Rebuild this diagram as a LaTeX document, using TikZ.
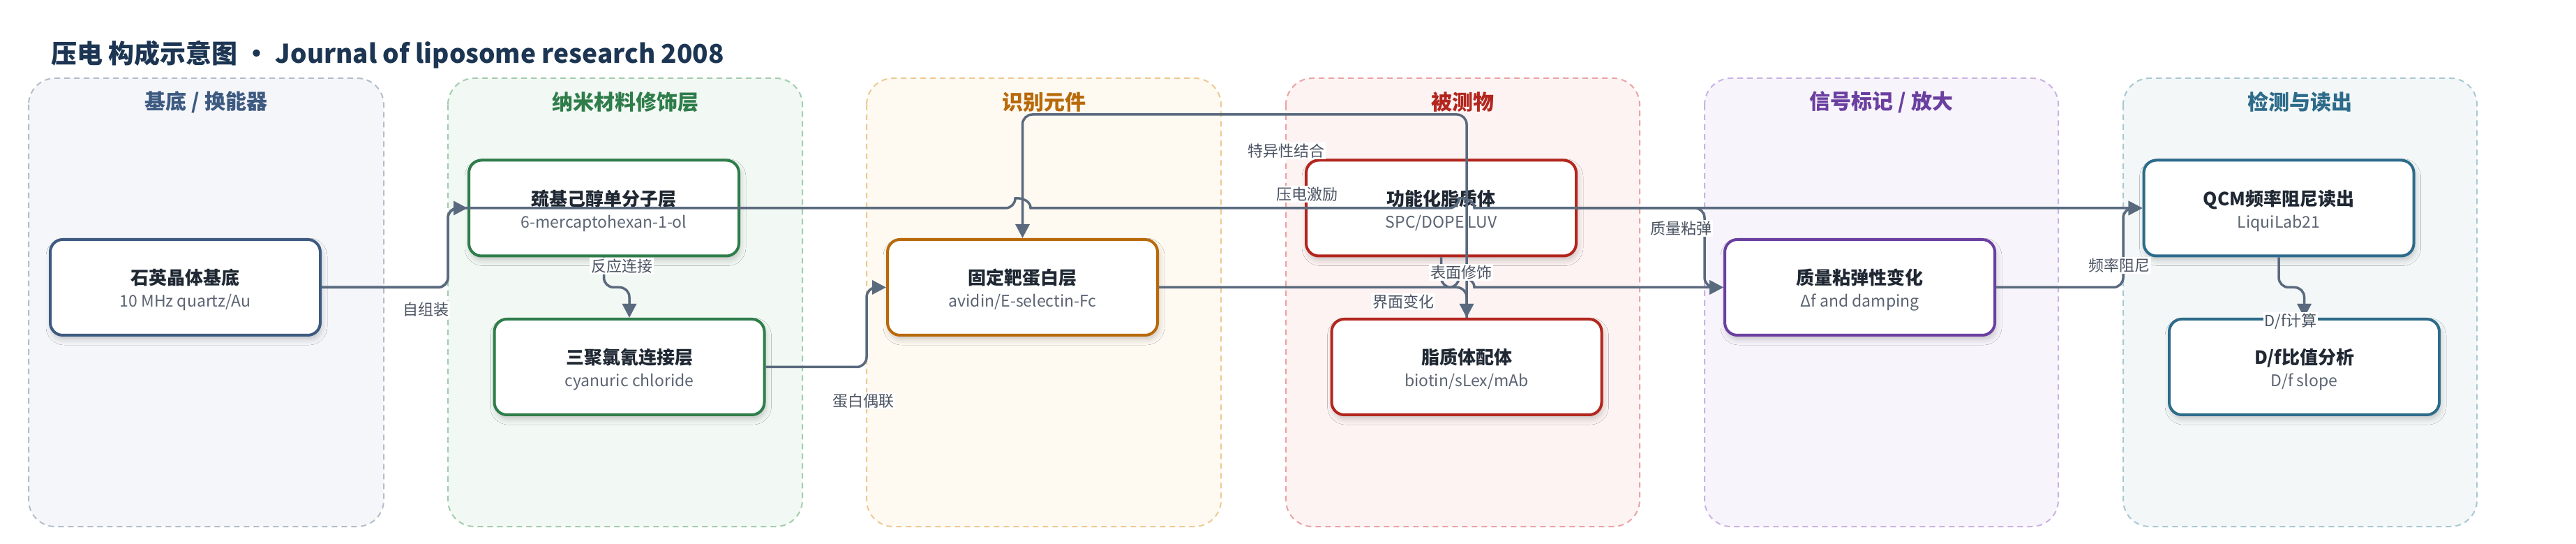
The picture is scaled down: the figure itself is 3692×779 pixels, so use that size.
\documentclass[tikz,border=0pt]{standalone}
\usepackage{fontspec}
\setmainfont{Noto Sans CJK SC}
\usetikzlibrary{arrows.meta,shadows.blur}
\definecolor{titlec}{HTML}{1C3553}
\definecolor{edgec}{HTML}{5A6A7E}
\definecolor{labelc}{HTML}{4A5362}
\definecolor{ttlc}{HTML}{1F2833}
\definecolor{subc}{HTML}{5B6472}
\definecolor{laf}{HTML}{F5F6FA}\definecolor{lab}{HTML}{B3BDCC}\definecolor{lac}{HTML}{3D5A80}
\definecolor{lbf}{HTML}{F2F8F3}\definecolor{lbb}{HTML}{A3CDAD}\definecolor{lbc}{HTML}{2E7D4A}
\definecolor{lcf}{HTML}{FEF9F1}\definecolor{lcb}{HTML}{EECA92}\definecolor{lcc}{HTML}{B8690A}
\definecolor{ldf}{HTML}{FDF3F3}\definecolor{ldb}{HTML}{EBA3A3}\definecolor{ldc}{HTML}{B3261E}
\definecolor{lef}{HTML}{F7F4FB}\definecolor{leb}{HTML}{CBB2E3}\definecolor{lec}{HTML}{6B3FA0}
\definecolor{lff}{HTML}{F3F7F8}\definecolor{lfb}{HTML}{A9C8D3}\definecolor{lfc}{HTML}{2D6B8A}
\newcommand\mybox[6]{%
  \node[nodebox, draw=#4] (#1) at (#2,#3) {};
  \node[ttl] (#1-t) at ([yshift=1.75pt]#1.center) {#5};
  \node[subt] (#1-s) at ([yshift=-14.25pt]#1.center) {#6};
}
\begin{document}
\begin{tikzpicture}[x=0.5pt,y=-0.5pt,
  lane/.style={dash pattern=on 4pt off 3pt, line width=1pt, rounded corners=19pt},
  head/.style={font=\fontsize{15pt}{18pt}\selectfont\bfseries, anchor=center},
  nodebox/.style={fill=white, line width=2pt, rounded corners=9pt, minimum width=193.5pt, minimum height=68.5pt, inner sep=0pt,
    blur shadow={shadow xshift=1pt, shadow yshift=-3pt, shadow blur radius=4pt, shadow opacity=20}},
  ttl/.style={font=\fontsize{13pt}{15pt}\selectfont\bfseries, text=ttlc, anchor=base, inner sep=0pt},
  subt/.style={font=\fontsize{11.5pt}{14pt}\selectfont, text=subc, anchor=base, inner sep=0pt},
  edge/.style={draw=edgec, line width=1.75pt, rounded corners=7pt, -{Triangle[length=10pt,width=10pt]}},
  elabel/.style={fill=white, inner sep=1pt, font=\fontsize{11pt}{13pt}\selectfont, text=labelc}]
\useasboundingbox (0,0) rectangle (3692,779);
\fill[white] (0,0) rectangle (3692,779);
\node[anchor=base west, inner sep=0pt, text=titlec, font=\fontsize{18.5pt}{22pt}\selectfont\bfseries] (title) at (73,91) {压电 构成示意图 · Journal of liposome research 2008};
% lanes
\draw[lane, draw=lab, fill=laf] (41,112) rectangle (550,754);
\draw[lane, draw=lbb, fill=lbf] (642,112) rectangle (1150,754);
\draw[lane, draw=lcb, fill=lcf] (1242,112) rectangle (1750,754);
\draw[lane, draw=ldb, fill=ldf] (1843,112) rectangle (2350,754);
\draw[lane, draw=leb, fill=lef] (2443,112) rectangle (2950,754);
\draw[lane, draw=lfb, fill=lff] (3043,112) rectangle (3550,754);
\node[head, text=lac] (h1) at (295.5,146) {基底 / 换能器};
\node[head, text=lbc] (h2) at (896,146) {纳米材料修饰层};
\node[head, text=lcc] (h3) at (1496,146) {识别元件};
\node[head, text=ldc] (h4) at (2096.5,146) {被测物};
\node[head, text=lec] (h5) at (2696.5,146) {信号标记 / 放大};
\node[head, text=lfc] (h6) at (3296.5,146) {检测与读出};
% nodes
\mybox{quartz}{265.5}{411.5}{lac}{石英晶体基底}{10 MHz quartz/Au}
\mybox{thiol}{865.5}{298}{lbc}{巯基己醇单分子层}{6-mercaptohexan-1-ol}
\mybox{cyan}{902}{525.5}{lbc}{三聚氯氰连接层}{cyanuric chloride}
\mybox{avidin}{1465.5}{411.5}{lcc}{固定靶蛋白层}{avidin/E-selectin-Fc}
\mybox{lipo}{2065.5}{298}{ldc}{功能化脂质体}{SPC/DOPE LUV}
\mybox{ligand}{2102}{525.5}{ldc}{脂质体配体}{biotin/sLex/mAb}
\mybox{mass}{2665.5}{411.5}{lec}{质量粘弹性变化}{Δf and damping}
\mybox{qcm}{3266}{298}{lfc}{QCM频率阻尼读出}{LiquiLab21}
\mybox{df}{3302.5}{525.5}{lfc}{D/f比值分析}{D/f slope}
% edges
\draw[edge] (quartz.east) -- (642,411.5) -- (642,298) -- (thiol.west);
\draw[edge] (quartz.east) -- (642,411.5) -- (642,298) -- (1455,298) [sharp corners] .. controls (1455,283.3) and (1477,283.3) .. (1477,298) [rounded corners=7pt] -- (2091,298) [sharp corners] .. controls (2091,283.3) and (2113,283.3) .. (2113,298) -- (qcm.west);
\draw[edge] (thiol.south) -- (865.5,411.5) -- (902,411.5) -- (cyan.north);
\draw[edge] (cyan.east) -- (1242,525.5) -- (1242,411.5) -- (avidin.west);
\draw[edge] (ligand.north) -- (2102,164) -- (1465.5,164) -- (avidin.north);
\draw[edge] (lipo.south) -- (2065.5,411.5) -- (2102,411.5) -- (ligand.north);
\draw[edge] (avidin.east) -- (2091,411.5) [sharp corners] .. controls (2091,396.8) and (2113,396.8) .. (2113,411.5) -- (mass.west);
\draw[edge] (lipo.east) -- (2443,298) -- (2443,411.5) -- (mass.west);
\draw[edge] (mass.east) -- (3043,411.5) -- (3043,298) -- (qcm.west);
\draw[edge] (qcm.south) -- (3266,411.5) -- (3302.5,411.5) -- (df.north);
% labels
\node[elabel] (l1) at (610,443) {自组装};
\node[elabel] (l2) at (1873,278) {压电激励};
\node[elabel] (l3) at (891,381) {反应连接};
\node[elabel] (l4) at (1237,574) {蛋白偶联};
\node[elabel] (l5) at (1843,216) {特异性结合};
\node[elabel] (l6) at (2094,390) {表面修饰};
\node[elabel] (l7) at (2011,432) {界面变化};
\node[elabel] (l8) at (2409,327) {质量粘弹};
\node[elabel] (l9) at (3037,380) {频率阻尼};
\node[elabel] (l10) at (3283,460) {D/f计算};
\end{tikzpicture}
\end{document}
